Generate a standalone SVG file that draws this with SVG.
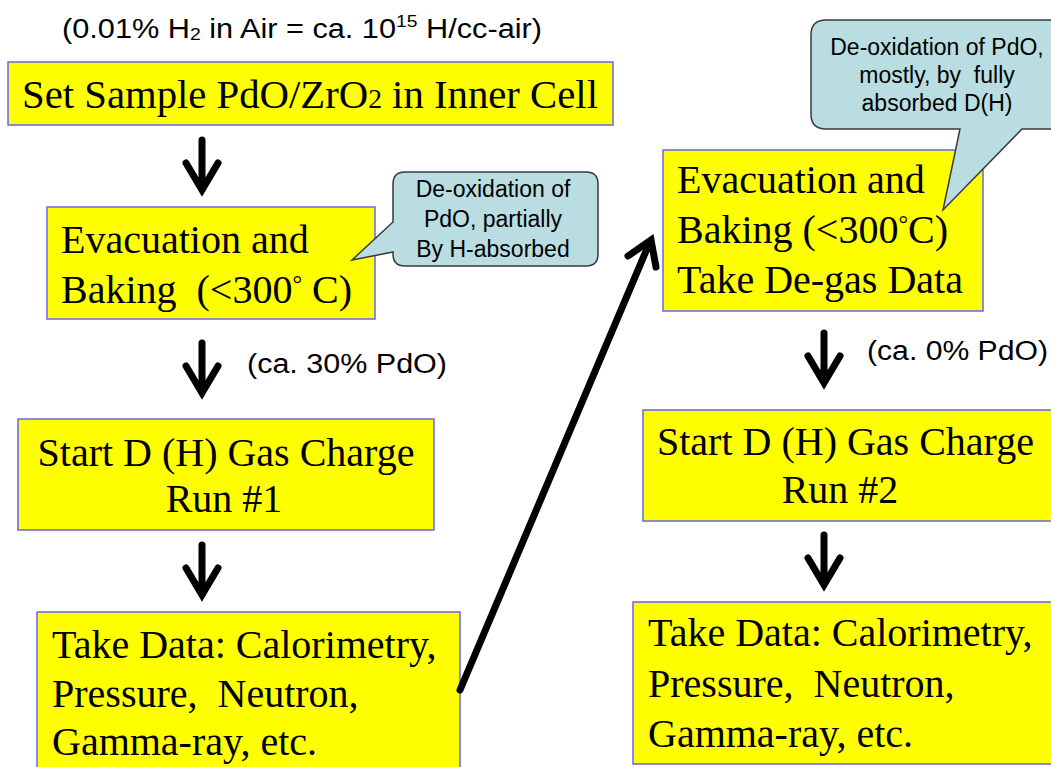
<svg xmlns="http://www.w3.org/2000/svg" xmlns:xlink="http://www.w3.org/1999/xlink" width="1051" height="767" viewBox="0 0 1051 767">
<style>
.box{fill:#ffff00;stroke:#6666ee;stroke-width:1.5}
.call{fill:#b9dde1;stroke:#3a3a3a;stroke-width:1.5}
.t{font-family:"Liberation Serif","Times New Roman",serif;font-size:40px;fill:#000;white-space:pre}
.s{font-family:"Liberation Sans",Arial,sans-serif;font-size:23px;fill:#000;white-space:pre}
.lab{font-family:"Liberation Sans",Arial,sans-serif;font-size:27px;fill:#000;white-space:pre}
.deg{font-size:24px}
.arr{fill:none;stroke:#000;stroke-width:7;stroke-linecap:round;stroke-linejoin:miter}
</style>
<defs>
<path id="down" class="arr" d="M0,-57 L0,-9 M-16,-34 L0,-7 L16,-34"/>
</defs>
<rect width="1051" height="767" fill="#fff"/>

<g id="note-top">
<text class="lab" x="62" y="38" textLength="480" lengthAdjust="spacingAndGlyphs" font-size="26">(0.01% H<tspan font-size="17" dy="2">2</tspan><tspan dy="-2"> in Air = ca. 10</tspan><tspan font-size="17" dy="-11">15</tspan><tspan dy="11"> H/cc-air)</tspan></text>
</g>

<g id="n1">
<rect class="box" x="8" y="62" width="605" height="63"/>
<text class="t" x="22" y="108" textLength="576" lengthAdjust="spacingAndGlyphs">Set Sample PdO/ZrO<tspan font-size="27">2</tspan> in Inner Cell</text>
</g>

<g id="n2">
<rect class="box" x="47" y="207" width="328" height="112"/>
<text class="t" x="61" y="253">Evacuation and</text>
<text class="t" x="61" y="303">Baking  (&lt;300<tspan class="deg" dy="-11">°</tspan><tspan dy="11"> C)</tspan></text>
</g>

<g id="c1">
<path class="call" d="M405,172 H586 Q598,172 598,184 V254 Q598,266 586,266 H405 Q393,266 393,254 V252 L352,260 L393,222 V184 Q393,172 405,172 Z"/>
<text class="s" x="493" y="197" text-anchor="middle">De-oxidation of</text>
<text class="s" x="493" y="227" text-anchor="middle">PdO, partially</text>
<text class="s" x="493" y="257" text-anchor="middle">By H-absorbed</text>
</g>

<g id="n3">
<rect class="box" x="18" y="419" width="416" height="111"/>
<text class="t" x="226" y="466" text-anchor="middle">Start D (H) Gas Charge</text>
<text class="t" x="224" y="512" text-anchor="middle">Run #1</text>
</g>

<g id="n4">
<rect class="box" x="37" y="612" width="423" height="165"/>
<text class="t" x="52" y="658">Take Data: Calorimetry,</text>
<text class="t" x="52" y="707">Pressure,  Neutron,</text>
<text class="t" x="52" y="755">Gamma-ray, etc.</text>
</g>

<g id="n5">
<rect class="box" x="663" y="150" width="320" height="161"/>
<text class="t" x="677" y="193">Evacuation and</text>
<text class="t" x="677" y="243">Baking (&lt;300<tspan class="deg" dy="-11">°</tspan><tspan dy="11">C)</tspan></text>
<text class="t" x="677" y="293">Take De-gas Data</text>
</g>

<g id="c2">
<path class="call" d="M826,20 H1065 V129 H1022 L943,210 L960,129 H826 Q811,129 811,114 V35 Q811,20 826,20 Z"/>
<text class="s" x="937" y="55" text-anchor="middle">De-oxidation of PdO,</text>
<text class="s" x="937" y="83" text-anchor="middle">mostly, by  fully</text>
<text class="s" x="937" y="111" text-anchor="middle">absorbed D(H)</text>
</g>

<g id="n6">
<rect class="box" x="643" y="410" width="420" height="111"/>
<text class="t" x="657" y="455">Start D (H) Gas Charge</text>
<text class="t" x="840" y="503" text-anchor="middle">Run #2</text>
</g>

<g id="n7">
<rect class="box" x="633" y="602" width="430" height="162"/>
<text class="t" x="648" y="646">Take Data: Calorimetry,</text>
<text class="t" x="648" y="697">Pressure,  Neutron,</text>
<text class="t" x="648" y="747">Gamma-ray, etc.</text>
</g>

<g id="connectors">
<use xlink:href="#down" href="#down" x="202" y="197"/>
<use xlink:href="#down" href="#down" x="202" y="400"/>
<use xlink:href="#down" href="#down" x="202" y="602"/>
<use xlink:href="#down" href="#down" x="824" y="390"/>
<use xlink:href="#down" href="#down" x="824" y="592"/>
<path class="arr" d="M460,690 L649,244 M628,256 L651,240 L656,267"/>
<text class="lab" x="247" y="373" textLength="200" lengthAdjust="spacingAndGlyphs">(ca. 30% PdO)</text>
<text class="lab" x="867" y="360" textLength="181" lengthAdjust="spacingAndGlyphs">(ca. 0% PdO)</text>
</g>
</svg>
